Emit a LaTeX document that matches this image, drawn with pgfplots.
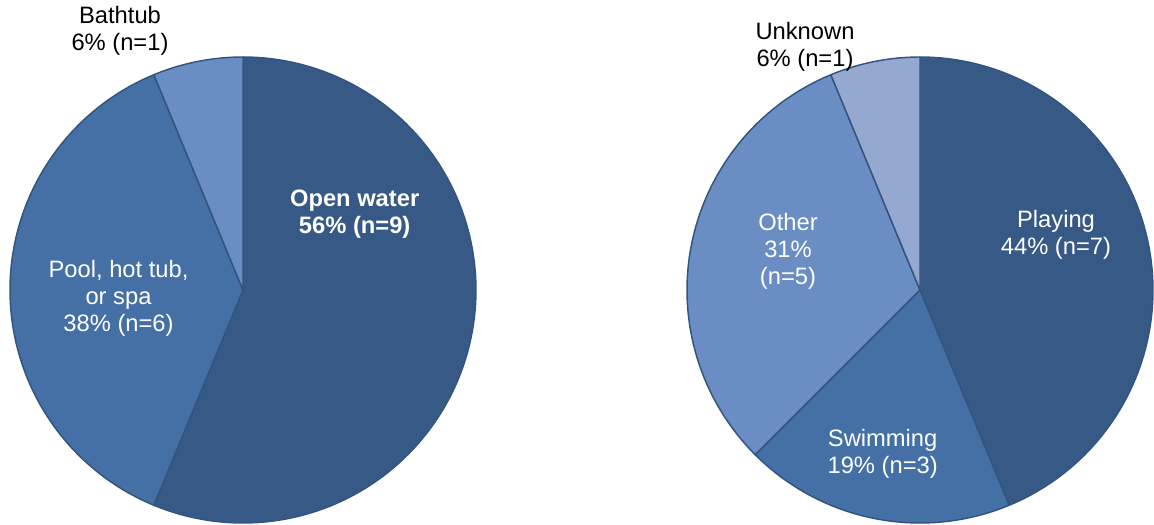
\documentclass[border=0pt]{standalone}
\usepackage{pgfplots}
\pgfplotsset{compat=1.18}
\usepgfplotslibrary{polar}
\usepackage{fontspec}
\setmainfont{Liberation Sans}
\definecolor{cA}{RGB}{55,89,134}
\definecolor{cB}{RGB}{68,112,166}
\definecolor{cC}{RGB}{106,142,196}
\definecolor{cD}{RGB}{149,168,208}
\definecolor{cEdge}{RGB}{52,84,128}
% counts (n), total 16 in each chart -> angle = n/16*360, slices clockwise from 12 o'clock
% Left: Open water 9 (202.5 deg), Pool/hot tub/spa 6 (135 deg), Bathtub 1 (22.5 deg)
% Right: Playing 7 (157.5 deg), Swimming 3 (67.5 deg), Other 5 (112.5 deg), Unknown 1 (22.5 deg)
\pgfplotsset{pie/.style={hide axis, xmin=0, xmax=360, ymin=0, ymax=1,
  width=349.5pt, height=349.5pt, scale only axis, anchor=origin, clip=false},
  slice/.style={draw=cEdge, line width=1.1pt, line join=round, samples=120, no markers}}
\newcommand{\lbl}{\fontsize{17.8pt}{20.25pt}\selectfont}
\begin{document}
\begin{tikzpicture}
\path[use as bounding box] (0,0) rectangle (865.5pt,393.75pt);
\begin{polaraxis}[pie, at={(182.25pt,176.25pt)}]
\addplot[slice, fill=cA, domain=-112.5:90] {1} -- (axis cs:0,0) -- cycle;
\addplot[slice, fill=cB, domain=-247.5:-112.5] {1} -- (axis cs:0,0) -- cycle;
\addplot[slice, fill=cC, domain=90:112.5] {1} -- (axis cs:0,0) -- cycle;
\end{polaraxis}
\begin{polaraxis}[pie, at={(690pt,176.25pt)}]
\addplot[slice, fill=cA, domain=-67.5:90] {1} -- (axis cs:0,0) -- cycle;
\addplot[slice, fill=cB, domain=-135:-67.5] {1} -- (axis cs:0,0) -- cycle;
\addplot[slice, fill=cC, domain=-247.5:-135] {1} -- (axis cs:0,0) -- cycle;
\addplot[slice, fill=cD, domain=90:112.5] {1} -- (axis cs:0,0) -- cycle;
\end{polaraxis}
\node[align=center, font=\lbl, text=black] at (90pt,370.9pt) {Bathtub\\6\% (n=1)};
\node[align=center, font=\lbl\bfseries, text=white] at (266pt,233pt) {Open water\\56\% (n=9)};
\node[align=center, font=\lbl, text=white] at (88.9pt,170.25pt) {Pool, hot tub,\\or spa\\38\% (n=6)};
\node[align=center, font=\lbl, text=black] at (603.75pt,358.9pt) {Unknown\\6\% (n=1)};
\node[align=center, font=\lbl, text=white] at (591pt,205.5pt) {Other\\31\%\\(n=5)};
\node[align=center, font=\lbl, text=white] at (792pt,217.5pt) {Playing\\44\% (n=7)};
\node[align=center, font=\lbl, text=white] at (662pt,53.6pt) {Swimming\\19\% (n=3)};
\end{tikzpicture}
\end{document}
